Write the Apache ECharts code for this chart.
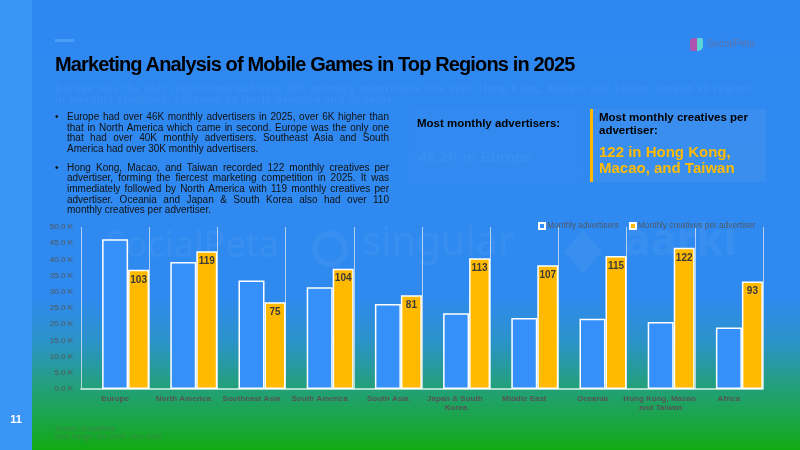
<!DOCTYPE html>
<html>
<head>
<meta charset="utf-8">
<script src="https://cdn.jsdelivr.net/npm/echarts@6.0.0/dist/echarts.min.js"></script>
<style>
  html, body { margin: 0; padding: 0; }
  body { font-family: 'Liberation Sans', Arial, sans-serif; }
  #page {
    position: relative; width: 800px; height: 450px; overflow: hidden;
    background: linear-gradient(to bottom, #2f88f1 0%, #2f8af0 66%, #2b93c8 76%, #22a07a 86%, #1ca450 92%, #10aa12 100%);
  }
  #stripe { position: absolute; left: 0; top: 0; width: 32px; height: 450px; background: #3a95f7; }
  #chart  { position: absolute; left: 0; top: 0; width: 800px; height: 450px; }
  .abs    { position: absolute; white-space: nowrap; }

  .dash   { left: 55px; top: 39px; width: 19px; height: 3px; background: #4a9df6; }
  .title  { left: 55px; top: 54px; font-size: 20px; line-height: 20px; font-weight: bold; color: #000; letter-spacing: -0.87px; }
  .sub    { left: 55px; top: 83px; font-size: 10.5px; line-height: 10.7px; font-weight: bold; color: rgba(255,255,255,0.045); letter-spacing: 0.55px; }

  .bullets { left: 67px; top: 112px; width: 322px; white-space: normal; font-size: 10px; line-height: 10.67px; color: #111; }
  .bullets p { margin: 0 0 7.9px 0; text-align: justify; position: relative; }
  .bullets p::before { content: '•'; position: absolute; left: -12px; }

  .box1 { left: 410px; top: 109px; width: 171px; height: 73px; background: rgba(255,255,255,0.015); }
  .box2 { left: 590px; top: 109px; width: 176px; height: 73px; background: rgba(190,200,215,0.08); border-left: 3px solid #ffb800; box-sizing: border-box; }
  .boxTitle { font-size: 11.5px; line-height: 13.3px; font-weight: bold; color: #000; }
  .big      { font-size: 15px; line-height: 16px; font-weight: bold; }

  .logoIcon { left: 690px; top: 38px; width: 13px; height: 13px; border-radius: 4px 2px 5px 2px;
              background: linear-gradient(to right, #c24aa6 0%, #c24aa6 50%, #62e3cf 50%, #62e3cf 100%); opacity: 0.85; }
  .logoText { left: 707px; top: 38px; font-size: 10px; line-height: 12px; color: rgba(105,110,150,0.75); }

  .pageNo { left: 0; top: 413px; width: 32px; text-align: center; font-size: 11px; font-weight: bold; color: #fff; }
  .source { left: 55px; top: 425px; font-size: 7px; line-height: 8.3px; color: rgba(90,110,90,0.55); }
</style>
</head>
<body>
<div id="page">
  <div id="stripe"></div>
  <div id="chart"></div>

  <div class="abs dash"></div>
  <div class="abs title">Marketing Analysis of Mobile Games in Top Regions in 2025</div>
  <div class="abs sub">Europe was the only region that had over 40K monthly advertisers this year. Hong Kong, Macao, and Taiwan topped all regions<br>in monthly creatives, followed by North America and Oceania.</div>

  <div class="abs bullets">
    <p>Europe had over 46K monthly advertisers in 2025, over 6K higher than that in North America which came in second. Europe was the only one that had over 40K monthly advertisers. Southeast Asia and South America had over 30K monthly advertisers.</p>
    <p>Hong Kong, Macao, and Taiwan recorded 122 monthly creatives per advertiser, forming the fiercest marketing competition in 2025. It was immediately followed by North America with 119 monthly creatives per advertiser. Oceania and Japan &amp; South Korea also had over 110 monthly creatives per advertiser.</p>
  </div>

  <!-- 右上兩個重點框 -->
  <div class="abs box1"></div>
  <div class="abs box2"></div>
  <div class="abs boxTitle" style="left:417px; top:117px;">Most monthly advertisers:</div>
  <div class="abs big" style="left:419px; top:149px; color:rgba(255,255,255,0.04);">46.2K in Europe</div>
  <div class="abs boxTitle" style="left:599px; top:111px;">Most monthly creatives per<br>advertiser:</div>
  <div class="abs big" style="left:599px; top:144px; color:#ffbb00;">122 in Hong Kong,<br>Macao, and Taiwan</div>

  <div class="abs logoIcon"></div>
  <div class="abs logoText">SocialPeta</div>

  <div class="abs pageNo">11</div>
  <div class="abs source">Source: SocialPeta<br>Data Range: Jan 2025 - Dec 2025</div>
</div>

<script>
// ─── 資料 ────────────────────────────────────────────────
const regions = [
  'Europe', 'North America', 'Southeast Asia', 'South America', 'South Asia',
  'Japan & South Korea', 'Middle East', 'Oceania', 'Hong Kong, Macao and Taiwan', 'Africa',
]
const monthlyAdvertisers     = [46200, 39200, 33500, 31400, 26200, 23400, 21900, 21700, 20700, 19000]
const creativesPerAdvertiser = [103, 119, 75, 104, 81, 113, 107, 115, 122, 93]

const BLUE   = '#3591f9'
const YELLOW = '#ffba00'
const GREY   = '#555'

const chart = echarts.init(document.getElementById('chart'))

// 浮水印（淡白色）
const wm = 'rgba(255,255,255,0.05)'
const watermarks = [
  { type: 'text', left: 106, top: 229, z: 0, silent: true,
    style: { text: 'SocialPeta', fill: wm, font: '36px "Noto Sans", sans-serif' } },
  { type: 'circle', z: 0, silent: true, shape: { cx: 330, cy: 249, r: 15 },
    style: { fill: 'none', stroke: wm, lineWidth: 6 } },
  { type: 'text', left: 362, top: 224, z: 0, silent: true,
    style: { text: 'singular', fill: wm, font: '40px "Noto Sans", sans-serif' } },
  { type: 'polygon', z: 0, silent: true, shape: { points: [[583, 230], [602, 252], [583, 273], [564, 252]] },
    style: { fill: wm } },
  { type: 'text', left: 624, top: 220, z: 0, silent: true,
    style: { text: 'aarki', fill: wm, font: 'bold 44px "Noto Sans", sans-serif' } },
]

chart.setOption({
  backgroundColor: 'transparent',
  textStyle: { fontFamily: 'Liberation Sans, Arial, sans-serif' },
  graphic: watermarks,
  legend: {
    data: ['Monthly advertisers', 'Monthly creatives per advertiser'],
    left: 533, top: 217,
    icon: 'rect', itemWidth: 6, itemHeight: 6, itemGap: 10,
    textStyle: { fontSize: 8.3, color: '#505a6a', padding: [0, 0, 0, -3] },
  },
  grid: { left: 81, right: 37, top: 227, bottom: 61 },
  xAxis: {
    type: 'category',
    data: regions,
    axisTick: { show: false },
    axisLine: { lineStyle: { color: 'rgba(255,255,255,0.85)', width: 1.5 } },
    splitLine: { show: true, lineStyle: { color: 'rgba(225,232,245,0.75)', width: 1 } },
    axisLabel: {
      interval: 0, fontSize: 8, fontWeight: 'bold', color: GREY,
      width: 78, overflow: 'break', lineHeight: 9, margin: 5,
    },
  },
  yAxis: [
    {
      type: 'value', min: 0, max: 50000, interval: 5000,
      axisLine: { show: false }, axisTick: { show: false }, splitLine: { show: false },
      axisLabel: { fontSize: 8, color: GREY, margin: 8, formatter: v => (v / 1000).toFixed(1) + ' K' },
    },
    { type: 'value', min: 0, max: 140, show: false, splitLine: { show: false } },
  ],
  series: [
    // 佔位用，讓兩根柱子靠向分類右側
    { name: 'spacer', type: 'bar', barWidth: 21, barGap: '0%', data: [], silent: true },
    {
      name: 'Monthly advertisers', type: 'bar', barWidth: 26, barGap: '0%',
      itemStyle: { color: BLUE, borderColor: '#fff', borderWidth: 1.5 },
      data: monthlyAdvertisers,
    },
    {
      name: 'Monthly creatives per advertiser', type: 'bar', barWidth: 21, barGap: '0%', yAxisIndex: 1,
      itemStyle: { color: YELLOW, borderColor: '#fff', borderWidth: 1.5 },
      label: { show: true, position: 'insideTop', distance: 5, fontSize: 10, fontWeight: 'bold', color: '#3a3a3a' },
      data: creativesPerAdvertiser,
    },
  ],
})
</script>
</body>
</html>
